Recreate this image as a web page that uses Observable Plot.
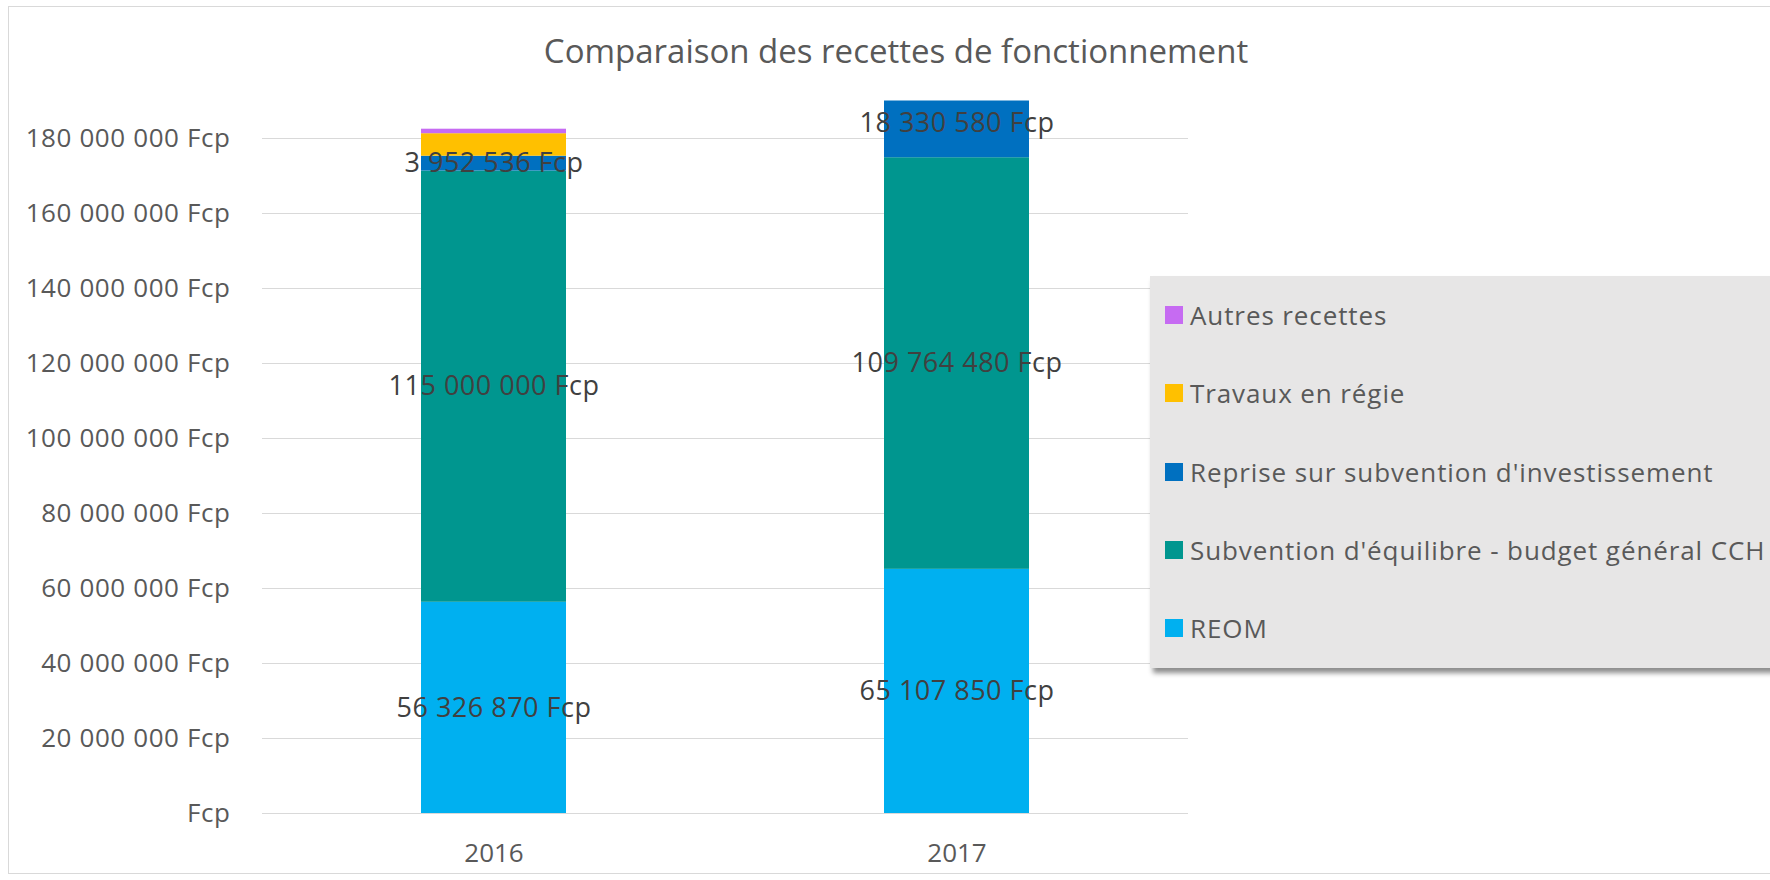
<!DOCTYPE html>
<html>
<head>
<meta charset="utf-8">
<script src="https://cdn.jsdelivr.net/npm/d3@7"></script>
<script src="https://cdn.jsdelivr.net/npm/@observablehq/plot@0.6"></script>
<style>
  html, body { margin: 0; padding: 0; background: #fff; overflow: hidden; }
  #wrap { position: relative; width: 1770px; height: 880px; overflow: hidden; font-family: "Open Sans", sans-serif; }
  #border { position: absolute; left: 8px; top: 6px; width: 1800px; height: 868px; border: 1px solid #d9d9d9; box-sizing: border-box; }
  #title { position: absolute; left: 17px; width: 1758px; top: 29px; line-height: 44px; text-align: center; font-size: 33px; color: #595959; }
  #chart { position: absolute; left: 0; top: 90px; }
  #legend { position: absolute; left: 1150px; top: 276px; width: 660px; height: 392px; background: #e7e6e6; box-shadow: 3px 5px 5px rgba(0,0,0,0.45); }
  .item { position: absolute; left: 15px; height: 40px; display: flex; align-items: center; font-size: 26px; letter-spacing: 0.9px; color: #595959; white-space: nowrap; }
  .sw { width: 18px; height: 18px; margin-right: 7px; }
  #chart g[aria-label="y-axis tick label"] text { letter-spacing: 0.6px; }
  #chart g[aria-label="text"] text { letter-spacing: 0.5px; }
</style>
</head>
<body>
<div id="wrap">
  <div id="border"></div>
  <div id="title">Comparaison des recettes de fonctionnement</div>
  <div id="chart"></div>
  <div id="legend"></div>
</div>
<script>
const years = ["2016", "2017"];
const series = ["REOM", "Subvention d'équilibre - budget général CCH", "Reprise sur subvention d'investissement", "Travaux en régie", "Autres recettes"];
const colors = ["#00B0F0", "#00968F", "#0070C0", "#FFC000", "#C66BF2"];
const reom = [56326870, 65107850];
const subvention = [115000000, 109764480];
const reprise = [3952536, 18330580];
const travaux = [6000000, 0];
const autres = [1200000, 0];
const labelled = ["REOM", "Subvention d'équilibre - budget général CCH", "Reprise sur subvention d'investissement"];
const yTicks = [0, 20000000, 40000000, 60000000, 80000000, 100000000, 120000000, 140000000, 160000000, 180000000];
const yMax = 190000000;

const valuesBySeries = [reom, subvention, reprise, travaux, autres];
const data = [];
series.forEach((s, i) => years.forEach((yr, j) => data.push({year: yr, series: s, value: valuesBySeries[i][j]})));

const grp = d3.format(",d");
const fmt = v => grp(v).replace(/,/g, " ");
const tickFmt = d => d === 0 ? "Fcp" : fmt(d) + " Fcp";

const plot = Plot.plot({
  width: 1770,
  height: 790,
  marginLeft: 262,
  marginRight: 582,
  marginTop: 10.5,
  marginBottom: 67,
  style: {fontFamily: "Open Sans, sans-serif", fontSize: "26px", color: "#595959", background: "transparent", overflow: "visible"},
  x: {domain: years, paddingInner: 0.687, paddingOuter: 0.3435, label: null},
  y: {domain: [0, yMax], clamp: true, label: null},
  color: {domain: series, range: colors},
  marks: [
    Plot.gridY(yTicks, {stroke: "#d9d9d9", strokeOpacity: 1, strokeWidth: 1}),
    Plot.axisY(yTicks, {tickSize: 0, tickPadding: 32, tickFormat: tickFmt, fill: "#595959", label: null}),
    Plot.axisX({tickSize: 0, tickPadding: 30, fill: "#595959", label: null}),
    Plot.barY(data, {x: "year", y: "value", fill: "series", order: series}),
    Plot.text(data, Plot.stackY({x: "year", y: "value", z: "series", order: series,
      text: d => (labelled.includes(d.series) && d.value > 0) ? fmt(d.value) + " Fcp" : "",
      fill: "#404040", fontSize: 27}))
  ]
});
document.getElementById("chart").appendChild(plot);

const legend = document.getElementById("legend");
const order = series.slice().reverse();
order.forEach((s, k) => {
  const it = document.createElement("div");
  it.className = "item";
  it.style.top = (39 + k * 78.25 - 20) + "px";
  const sw = document.createElement("div");
  sw.className = "sw";
  sw.style.background = colors[series.indexOf(s)];
  const tx = document.createElement("span");
  tx.textContent = s;
  it.appendChild(sw); it.appendChild(tx);
  legend.appendChild(it);
});
</script>
</body>
</html>
